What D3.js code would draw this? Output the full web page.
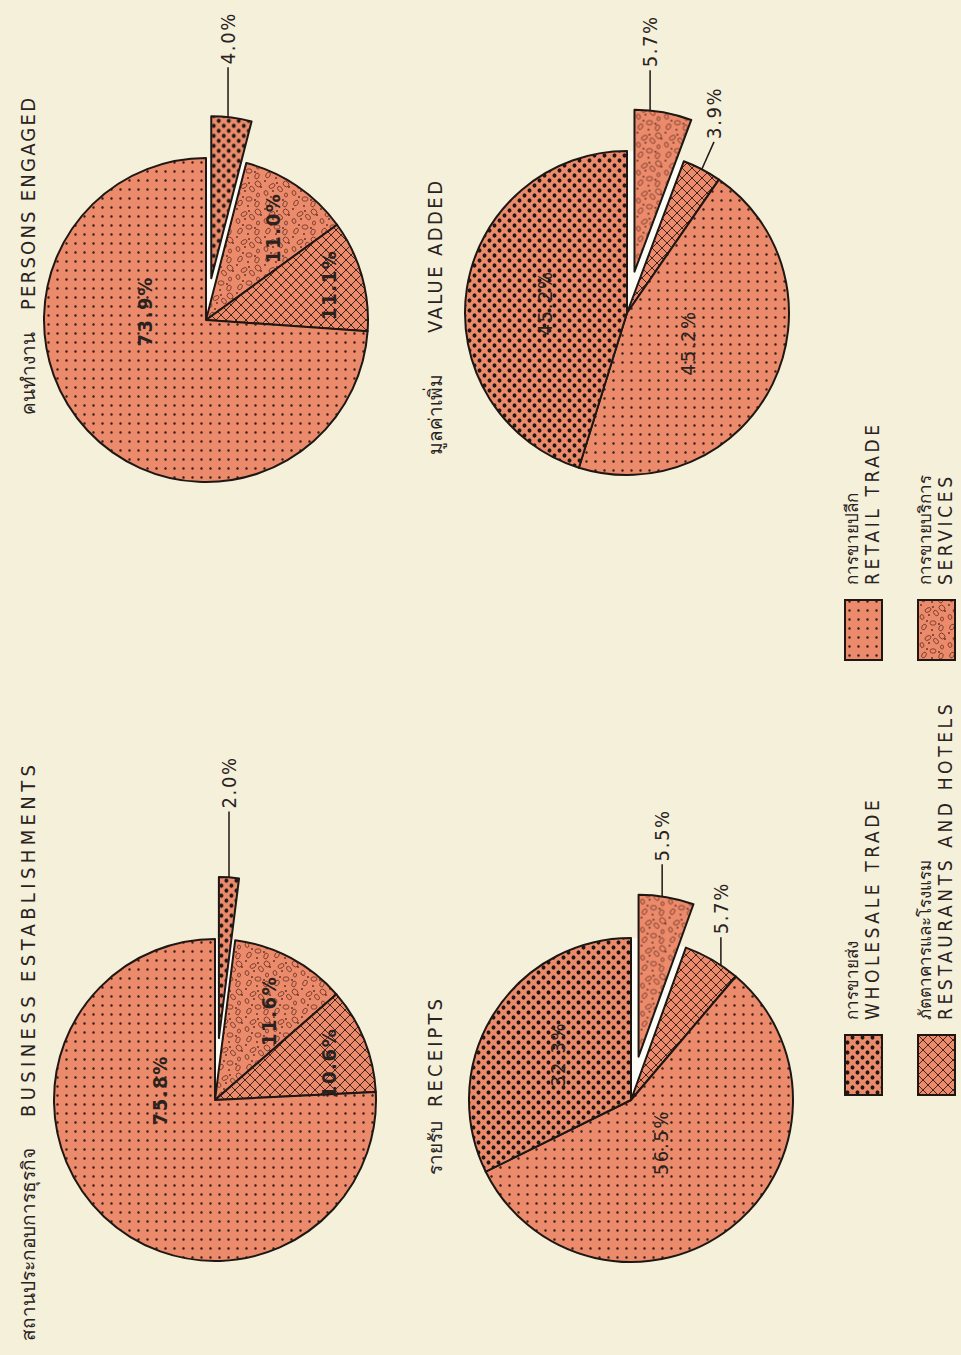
<!DOCTYPE html>
<html>
<head>
<meta charset="utf-8">
<script src="https://cdn.jsdelivr.net/npm/d3@7"></script>
<style>
  html, body { margin: 0; padding: 0; background: #f4f0da; }
  svg { display: block; }
  text { font-family: "DejaVu Sans Condensed", "DejaVu Sans", "Noto Sans", sans-serif; fill: #2a221e; }
</style>
</head>
<body>
<svg id="chart" width="961" height="1355"></svg>
<script>
/*
    Four pie charts of the trade and services sector, printed sideways on the page
 */

// categories (legend order)
const categories = ["wholesale", "retail", "restaurants", "services"];
const legendThai = ["การขายส่ง", "การขายปลีก", "ภัตตาคารและโรงแรม", "การขายบริการ"];
const legendEng = ["WHOLESALE  TRADE", "RETAIL  TRADE", "RESTAURANTS  AND  HOTELS", "SERVICES"];

// shares in percent, same order as categories
const establishments = [2.0, 75.8, 10.6, 11.6];
const personsEngaged = [4.0, 73.9, 11.1, 11.0];
const receipts = [32.3, 56.5, 5.7, 5.5];
const valueAdded = [45.2, 45.2, 3.9, 5.7];

const titlesThai = ["สถานประกอบการธุรกิจ", "คนทำงาน", "รายรับ", "มูลค่าเพิ่ม"];
const titlesEng = ["BUSINESS  ESTABLISHMENTS", "PERSONS  ENGAGED", "RECEIPTS", "VALUE  ADDED"];

const W = 961, H = 1355;
const SALMON = "#ec8b6b";
const INK = "#1e1714";
const GAP = "#fdfcf5";

// layout of each pie on the landscape sheet (u along the page, v across it)
// angles are "clock" degrees as seen on screen: 0 = up, clockwise
const charts = [
    { values: establishments, cx: 255, cy: 215, r: 161, order: [0, 3, 2, 1], explode: 0, offset: 62, bold: true,
      thaiAt: 14, engAt: 238, engLen: 352, titleY: 35,
      inside: { retail: [280, 56], services: [31, 104], restaurants: [72, 120] },
      outside: [{ cat: 0, phi: 3.6, len: 66, dir: 0 }] },
    { values: personsEngaged, cx: 1035, cy: 206, r: 162, order: [0, 3, 2, 1], explode: 0, offset: 42, bold: true,
      thaiAt: 940, engAt: 1045, engLen: 212, titleY: 35,
      inside: { retail: [278, 62], services: [36, 114], restaurants: [74, 128] },
      outside: [{ cat: 0, phi: 6.2, len: 50, dir: 0 }] },
    { values: receipts, cx: 255, cy: 631, r: 162, order: [3, 2, 1, 0], explode: 3, offset: 44, bold: false,
      thaiAt: 180, engAt: 248, engLen: 108, titleY: 442,
      inside: { wholesale: [302, 86], retail: [145, 52] },
      outside: [{ cat: 3, phi: 8.7, len: 32, dir: 0 }, { cat: 2, phi: 33.7, len: 28, dir: 0 }] },
    { values: valueAdded, cx: 1042, cy: 627, r: 162, order: [3, 2, 1, 0], explode: 3, offset: 42, bold: false,
      thaiAt: 900, engAt: 1022, engLen: 152, titleY: 442,
      inside: { wholesale: [277, 83], retail: [116, 68] },
      outside: [{ cat: 3, phi: 6.5, len: 40, dir: 0 }, { cat: 2, phi: 27.5, len: 30, dir: 24 }] }
];

const svg = d3.select("#chart");
svg.append("rect").attr("width", W).attr("height", H).attr("fill", "#f4f0da");

// ---------- hatch patterns ----------
const defs = svg.append("defs");

function makePattern(id, size) {
    let p = defs.append("pattern")
        .attr("id", id)
        .attr("patternUnits", "userSpaceOnUse")
        .attr("width", size)
        .attr("height", size);
    p.append("rect").attr("width", size).attr("height", size).attr("fill", SALMON);
    return p;
}

// retail: fine small dots
makePattern("pat-retail", 9)
    .append("circle").attr("cx", 4.5).attr("cy", 4.5).attr("r", 1.25).attr("fill", "#3a221b");

// wholesale: heavy dots on a diagonal grid
let pw = makePattern("pat-wholesale", 10);
[[2.5, 2.5], [7.5, 7.5]].forEach(c => {
    pw.append("circle").attr("cx", c[0]).attr("cy", c[1]).attr("r", 2.1).attr("fill", INK);
});

// restaurants: cross hatching
makePattern("pat-restaurants", 10)
    .append("path")
    .attr("d", "M0,0L10,10M10,0L0,10")
    .attr("stroke", "#2b1a15").attr("stroke-width", 0.9).attr("fill", "none");

// services: loose pebbles
let ps = makePattern("pat-services", 28);
const pebbles = [[5, 6, 3, 2, 30], [15, 4, 2.5, 1.8, -20], [22, 10, 3.2, 2, 60], [9, 15, 2.2, 3, 0],
    [19, 18, 3, 2, -40], [4, 23, 3, 2, 20], [13, 24, 2, 1.5, 0], [24, 24, 2.5, 3.2, 45]];
pebbles.forEach(e => {
    ps.append("ellipse")
        .attr("cx", e[0]).attr("cy", e[1]).attr("rx", e[2]).attr("ry", e[3])
        .attr("transform", `rotate(${e[4]},${e[0]},${e[1]})`)
        .attr("fill", "none").attr("stroke", "#6a3022").attr("stroke-width", 0.8);
});
[[11, 9], [2, 14], [25, 15], [17, 11], [8, 21], [21, 27], [27, 3]].forEach(c => {
    ps.append("circle").attr("cx", c[0]).attr("cy", c[1]).attr("r", 0.9).attr("fill", "#5a2a1e");
});

const patternOf = i => `url(#pat-${categories[i]})`;

// ---------- the sheet, turned a quarter turn ----------
const sheet = svg.append("g").attr("transform", `translate(0,${H}) rotate(-90)`);

// clock angle on screen -> point in the sheet's frame
function clockPoint(phiDeg, rho) {
    let t = (phiDeg + 90) * Math.PI / 180;
    return [rho * Math.sin(t), -rho * Math.cos(t)];
}

const fmt = v => d3.format(".1f")(v) + "%";

const pie = d3.pie()
    .sort(null)
    .value(d => d.value)
    .startAngle(Math.PI / 2)
    .endAngle(Math.PI / 2 + 2 * Math.PI);

charts.forEach((c, ci) => {
    let g = sheet.append("g").attr("transform", `translate(${c.cx},${c.cy})`);
    let arc = d3.arc().innerRadius(0).outerRadius(c.r);
    let arcs = pie(c.order.map(i => ({ cat: i, value: c.values[i] })));

    // the slot left behind by the pulled-out slice
    let pulled = arcs.find(a => a.data.cat === c.explode);
    g.append("path").attr("d", arc(pulled)).attr("fill", GAP);

    g.selectAll("path.slice")
        .data(arcs)
        .enter().append("path")
        .attr("class", "slice")
        .attr("d", arc)
        .attr("transform", d => {
            if (d.data.cat !== c.explode) return null;
            let m = (d.startAngle + d.endAngle) / 2;
            return `translate(${c.offset * Math.sin(m)},${-c.offset * Math.cos(m)})`;
        })
        .attr("fill", d => patternOf(d.data.cat))
        .attr("stroke", INK)
        .attr("stroke-width", 2)
        .attr("stroke-linejoin", "round");

    // labels inside the slices
    Object.keys(c.inside).forEach(key => {
        let i = categories.indexOf(key);
        let p = clockPoint(c.inside[key][0], c.inside[key][1]);
        g.append("text")
            .attr("x", p[0]).attr("y", p[1]).attr("dy", "0.36em")
            .attr("text-anchor", "middle")
            .attr("font-size", 20)
            .attr("letter-spacing", 1.6)
            .attr("font-weight", c.bold ? "bold" : "normal")
            .text(fmt(c.values[i]));
    });

    // leader lines and labels outside
    c.outside.forEach(o => {
        let rho = c.r + (o.cat === c.explode ? c.offset : 0);
        let s = clockPoint(o.phi, rho);
        let dv = clockPoint(o.dir, o.len);
        let e = [s[0] + dv[0], s[1] + dv[1]];
        g.append("line")
            .attr("x1", s[0]).attr("y1", s[1]).attr("x2", e[0]).attr("y2", e[1])
            .attr("stroke", INK).attr("stroke-width", 1.5);
        g.append("text")
            .attr("x", e[0] + 3).attr("y", e[1]).attr("dy", "0.36em")
            .attr("font-size", 20)
            .attr("letter-spacing", 1.6)
            .text(fmt(c.values[o.cat]));
    });

    // titles
    sheet.append("text")
        .attr("x", c.thaiAt).attr("y", c.titleY)
        .attr("font-size", 19)
        .text(titlesThai[ci]);
    sheet.append("text")
        .attr("x", c.engAt).attr("y", c.titleY)
        .attr("font-size", 20)
        .attr("textLength", c.engLen)
        .attr("lengthAdjust", "spacing")
        .text(titlesEng[ci]);
});

// ---------- legend ----------
const legendPos = [[260, 845], [695, 845], [260, 918], [695, 918]];
const legend = sheet.selectAll("g.legend")
    .data(categories)
    .enter().append("g")
    .attr("class", "legend")
    .attr("transform", (d, i) => `translate(${legendPos[i][0]},${legendPos[i][1]})`);

legend.append("rect")
    .attr("width", 60).attr("height", 37)
    .attr("fill", (d, i) => patternOf(i))
    .attr("stroke", INK).attr("stroke-width", 2);

legend.append("text")
    .attr("x", 75).attr("y", 13)
    .attr("font-size", 17)
    .text((d, i) => legendThai[i]);

legend.append("text")
    .attr("x", 75).attr("y", 34)
    .attr("font-size", 19)
    .attr("letter-spacing", 3.6)
    .text((d, i) => legendEng[i]);
</script>
</body>
</html>
